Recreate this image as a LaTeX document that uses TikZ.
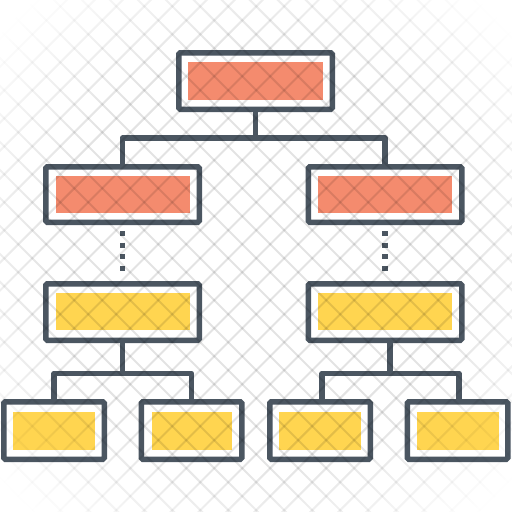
\documentclass[tikz,border=0pt]{standalone}
\usetikzlibrary{fadings}
\definecolor{ink}{HTML}{4B5661}
\definecolor{salmon}{HTML}{F48B6E}
\definecolor{sun}{HTML}{FFD550}
\pgfdeclareradialshading{gridfadeshade}{\pgfpoint{0bp}{0bp}}{color(0bp)=(pgftransparent!0); color(15bp)=(pgftransparent!0); color(25bp)=(pgftransparent!100); color(50bp)=(pgftransparent!100)}
\pgfdeclarefading{gridfade}{\pgfuseshading{gridfadeshade}}
\tikzset{
  box/.style={draw=ink, line width=5.5pt, fill=white, rounded corners=1.5pt, inner sep=0pt, outer sep=0pt, minimum width=153.5pt, minimum height=56.5pt},
  leafbox/.style={box, minimum width=100.5pt, minimum height=57.5pt},
  hotfill/.style={fill=salmon, inner sep=0pt, outer sep=0pt, minimum width=135pt, minimum height=37.5pt},
  sunfill/.style={fill=sun, inner sep=0pt, outer sep=0pt, minimum width=134pt, minimum height=37.5pt},
  leaffill/.style={sunfill, minimum width=82pt, minimum height=38pt},
  link/.style={draw=ink, line width=5.5pt, line join=round},
  dotlink/.style={link, dash pattern=on 5pt off 6.67pt, shorten <=8.75pt, shorten >=12.75pt},
  gridline/.style={draw=black, draw opacity=0.11, line width=2pt}
}
\begin{document}
\begin{tikzpicture}[x=1pt,y=-1pt]
\fill[white] (0,0) rectangle (512,512);
\useasboundingbox (0,0) rectangle (512,512);
% boxes
\node[box] (top) at (255.5,81) {};
\node[hotfill] (topf) at (top.center) {};
\node[box, minimum height=55.5pt] (L2L) at (122.5,194.5) {};
\node[hotfill, minimum width=134pt] (L2Lf) at (123,194.5) {};
\node[box, minimum height=55.5pt] (L2R) at (385,194.5) {};
\node[hotfill, minimum width=134pt] (L2Rf) at (385,194.5) {};
\node[box] (L3L) at (122.5,312) {};
\node[sunfill] (L3Lf) at (123,311.5) {};
\node[box] (L3R) at (385,312) {};
\node[sunfill] (L3Rf) at (385,311.5) {};
\node[leafbox] (A) at (54,430.5) {};
\node[leaffill] (Af) at (54,431) {};
\node[leafbox] (B) at (191.5,430.5) {};
\node[leaffill, minimum width=80pt] (Bf) at (192,431) {};
\node[leafbox] (C) at (320,430.5) {};
\node[leaffill] (Cf) at (320,431) {};
\node[leafbox] (D) at (457.5,430.5) {};
\node[leaffill] (Df) at (458,431) {};
% connectors
\coordinate (j1) at (255.5,138);
\coordinate (j2) at (122.5,373.5);
\coordinate (j3) at (390,373.5);
\draw[link] (top.south) -- (j1);
\draw[link] (L2L.north) |- (j1) -| (L2R.north);
\draw[dotlink] (L2L.south) -- (L3L.north);
\draw[dotlink] (L2R.south) -- (L3R.north);
\draw[link] (L3L.south) -- (j2);
\draw[link] (A.north) |- (j2) -| (B.north);
\draw[link] (L3R.south -| j3) -- (j3);
\draw[link] ([xshift=2pt]C.north) |- (j3) -| ([xshift=1.5pt]D.north);
% watermark grid
\begin{scope}
  \clip (0,0) rectangle (512,512);
  \path[scope fading=gridfade, fit fading=false, fading transform={shift={(256,256)}, scale=13.6}] (0,0) rectangle (512,512);
  \draw[gridline] foreach \k in {-20,...,19} { ({26.5+28*\k-20},-20) -- ({26.5+28*\k+532},532) };
  \draw[gridline] foreach \k in {-1,...,38} { ({10.5+28*\k+20},-20) -- ({10.5+28*\k-532},532) };
\end{scope}
\end{tikzpicture}
\end{document}
